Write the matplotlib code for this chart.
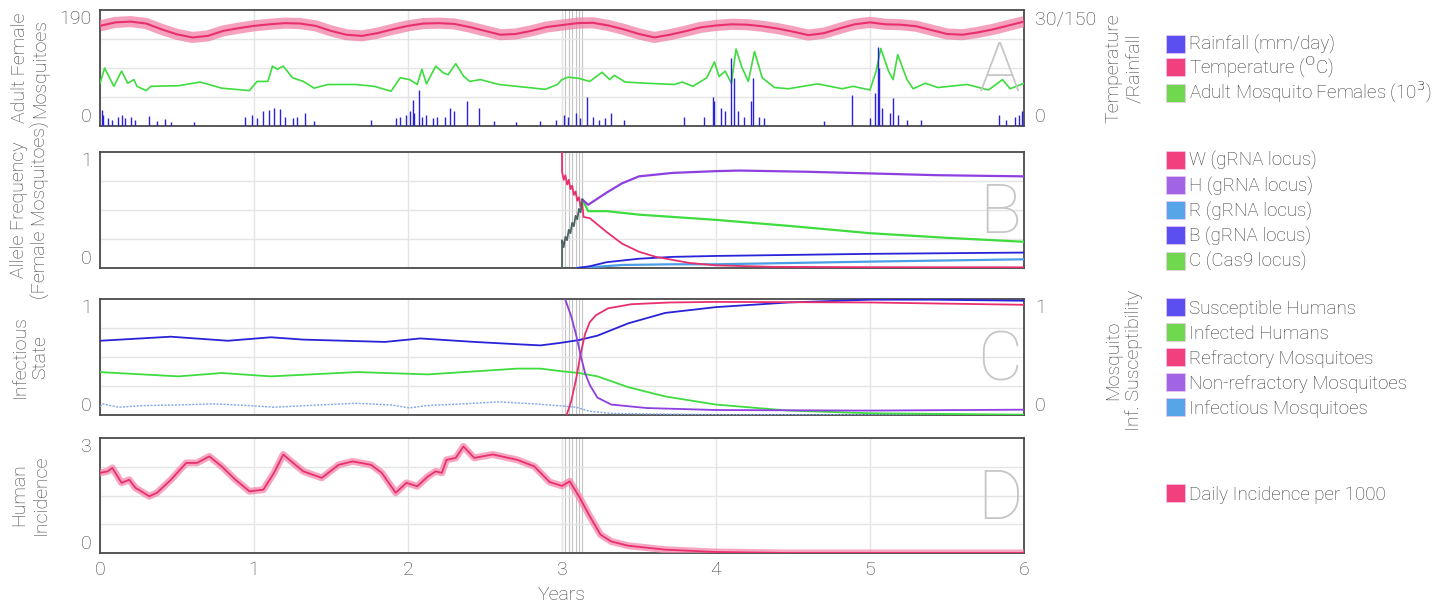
import numpy as np
import matplotlib.pyplot as plt
from matplotlib.patches import Patch

plt.rcParams['font.family'] = ['Roboto', 'DejaVu Sans']
plt.rcParams['font.weight'] = 'light'
plt.rcParams['axes.labelweight'] = 'light'

# release dates of the gene drive (years)
release_years = [3.0, 3.022, 3.044, 3.066, 3.088, 3.110, 3.132]

# --- panel A: climate and adult females ---
temp_years = np.linspace(0, 6, 61)
temp_c = [25.9, 26.8, 27.0, 26.5, 25.0, 23.7, 22.9, 23.3, 24.6, 25.3,
          25.9, 26.3, 26.6, 26.5, 25.9, 24.6, 23.6, 23.3, 24.0, 25.0,
          25.9, 26.5, 26.6, 26.4, 25.6, 24.6, 23.6, 23.8, 24.6, 25.6,
          26.1, 26.6, 26.7, 26.0, 25.0, 23.8, 22.9, 23.6, 24.5, 25.5,
          26.0, 26.3, 26.2, 25.8, 25.2, 24.4, 23.5, 24.0, 25.2, 26.3,
          26.8, 26.3, 26.2, 25.8, 24.8, 23.8, 23.6, 24.2, 25.0, 26.0, 27.0]

mosq_years = [0.0, 0.03, 0.09, 0.14, 0.18, 0.22, 0.24, 0.30, 0.33, 0.51, 0.65, 0.79, 0.97,
              1.02, 1.09, 1.12, 1.15, 1.19, 1.25, 1.32, 1.39, 1.48, 1.66, 1.78, 1.89, 1.95,
              2.01, 2.06, 2.09, 2.12, 2.18, 2.23, 2.26, 2.31, 2.36, 2.40, 2.47, 2.59, 2.82,
              2.89, 2.97, 3.00, 3.04, 3.11, 3.18, 3.26, 3.31, 3.34, 3.41, 3.55, 3.73, 3.78,
              3.85, 3.94, 3.99, 4.02, 4.06, 4.10, 4.13, 4.17, 4.21, 4.25, 4.30, 4.38, 4.47,
              4.66, 4.82, 4.89, 5.00, 5.04, 5.07, 5.12, 5.15, 5.18, 5.24, 5.28, 5.36, 5.44,
              5.63, 5.77, 5.86, 5.91, 6.00]
mosq_k = [70, 95, 65, 90, 70, 76, 65, 58, 65, 66, 72, 62, 58,
          73, 73, 98, 93, 98, 79, 73, 62, 68, 68, 65, 57, 79,
          76, 68, 93, 69, 98, 87, 84, 102, 82, 73, 76, 68, 62,
          60, 68, 76, 80, 78, 73, 88, 76, 83, 72, 70, 68, 72,
          65, 79, 105, 81, 90, 70, 126, 95, 73, 122, 79, 63, 61,
          69, 61, 65, 59, 90, 127, 90, 76, 117, 76, 61, 70, 63,
          68, 59, 76, 61, 70]

rain_years = [0.01, 0.02, 0.05, 0.08, 0.12, 0.14, 0.16, 0.20, 0.23, 0.32, 0.37, 0.42, 0.46,
              0.61, 0.94, 0.99, 1.02, 1.06, 1.10, 1.13, 1.17, 1.20, 1.25, 1.28, 1.33, 1.39,
              1.76, 1.92, 1.95, 1.99, 2.01, 2.03, 2.04, 2.07, 2.09, 2.12, 2.16, 2.19, 2.24,
              2.27, 2.30, 2.38, 2.46, 2.56, 2.70, 2.86, 2.96, 3.01, 3.04, 3.09, 3.12, 3.16,
              3.20, 3.24, 3.28, 3.32, 3.40, 3.79, 3.92, 3.98, 3.99, 4.03, 4.06, 4.10, 4.12,
              4.14, 4.18, 4.23, 4.24, 4.28, 4.31, 4.70, 4.88, 5.00, 5.03, 5.05, 5.06, 5.08,
              5.13, 5.15, 5.18, 5.24, 5.33, 5.84, 5.88, 5.94, 5.97, 5.99]
rain_mm = [21, 14, 10, 8, 12, 14, 10, 12, 8, 13, 6, 9, 5,
           5, 12, 14, 10, 19, 21, 23, 22, 12, 10, 12, 17, 6,
           8, 10, 12, 14, 19, 34, 17, 47, 12, 14, 10, 12, 12,
           23, 19, 32, 23, 6, 5, 6, 8, 14, 12, 17, 10, 38,
           12, 8, 10, 17, 8, 12, 12, 38, 32, 23, 19, 88, 62,
           19, 12, 32, 62, 12, 10, 6, 40, 10, 43, 102, 75, 23,
           17, 36, 14, 8, 8, 14, 8, 11, 14, 19]

# --- panel B: allele frequencies ---
mix_years = [3.0, 3.0005, 3.011, 3.022, 3.033, 3.044, 3.055, 3.066, 3.077, 3.088, 3.099, 3.110, 3.121, 3.132]
mix_freq = [0.0, 0.24, 0.18, 0.27, 0.24, 0.33, 0.30, 0.39, 0.36, 0.45, 0.42, 0.51, 0.48, 0.59]
w_years = [3.0, 3.0005, 3.011, 3.022, 3.033, 3.044, 3.055, 3.066, 3.077, 3.088, 3.099, 3.110, 3.121,
           3.132, 3.14, 3.18, 3.29, 3.39, 3.50, 3.61, 3.83, 4.0, 4.37, 5.0, 6.0]
w_freq = [1.0, 0.83, 0.76, 0.80, 0.72, 0.76, 0.68, 0.71, 0.63, 0.66, 0.58, 0.61, 0.53,
          0.55, 0.44, 0.43, 0.31, 0.21, 0.14, 0.096, 0.043, 0.023, 0.01, 0.007, 0.006]
h_years = [3.132, 3.17, 3.29, 3.39, 3.50, 3.72, 4.0, 4.15, 4.58, 5.01, 5.44, 6.0]
h_freq = [0.59, 0.545, 0.65, 0.73, 0.79, 0.82, 0.835, 0.84, 0.83, 0.815, 0.80, 0.79]
c_years = [3.132, 3.17, 3.29, 3.5, 4.0, 4.5, 5.0, 5.5, 6.0]
c_freq = [0.59, 0.49, 0.49, 0.46, 0.415, 0.36, 0.30, 0.26, 0.226]
b_years = [3.10, 3.18, 3.29, 3.50, 3.72, 4.0, 5.0, 6.0]
b_freq = [0.0, 0.015, 0.05, 0.08, 0.096, 0.104, 0.122, 0.133]
r_years = [3.10, 3.18, 3.39, 3.72, 4.0, 5.0, 6.0]
r_freq = [0.0, 0.006, 0.026, 0.032, 0.032, 0.055, 0.075]

# --- panel C: infection states ---
sus_years = [0, 0.46, 0.83, 1.11, 1.32, 1.85, 2.08, 2.43, 2.71, 2.86, 2.98, 3.11, 3.23, 3.43,
             3.67, 4.0, 4.47, 5.0, 5.4, 6.0]
sus_h = [0.64, 0.675, 0.64, 0.67, 0.65, 0.63, 0.66, 0.63, 0.61, 0.60, 0.62, 0.646, 0.684, 0.79,
         0.88, 0.93, 0.97, 0.994, 0.994, 0.985]
inf_years = [0, 0.51, 0.79, 1.11, 1.67, 2.13, 2.71, 2.86, 2.98, 3.11, 3.23, 3.43, 3.67, 4.0,
             4.47, 5.0, 6.0]
inf_h = [0.37, 0.333, 0.362, 0.333, 0.37, 0.35, 0.40, 0.40, 0.38, 0.362, 0.333, 0.24, 0.16, 0.09,
         0.038, 0.015, 0.003]
refr_years = [3.03, 3.06, 3.09, 3.12, 3.15, 3.18, 3.22, 3.30, 3.45, 3.7, 4.0, 5.0, 6.0]
refr_m = [0.0, 0.12, 0.30, 0.52, 0.70, 0.80, 0.86, 0.92, 0.955, 0.97, 0.975, 0.97, 0.95]
nonref_years = [3.02, 3.06, 3.09, 3.12, 3.15, 3.18, 3.23, 3.32, 3.55, 4.0, 5.0, 6.0]
nonref_m = [1.0, 0.85, 0.70, 0.52, 0.36, 0.26, 0.15, 0.09, 0.06, 0.043, 0.038, 0.046]
infm_years = [0, 0.02, 0.12, 0.28, 0.51, 0.74, 0.97, 1.13, 1.43, 1.66, 1.89, 2.01, 2.12, 2.36,
              2.59, 2.82, 2.97, 3.09, 3.18, 3.32, 3.55, 4.0, 6.0]
infm = [0.072, 0.096, 0.067, 0.081, 0.087, 0.096, 0.081, 0.067, 0.087, 0.101, 0.087, 0.061,
        0.081, 0.096, 0.113, 0.096, 0.081, 0.067, 0.032, 0.014, 0.009, 0.003, 0.003]

# --- panel D: incidence ---
inc_years = [0.0, 0.05, 0.08, 0.14, 0.19, 0.23, 0.32, 0.37, 0.46, 0.56, 0.63, 0.71, 0.79, 0.88,
             0.97, 1.06, 1.13, 1.19, 1.23, 1.32, 1.44, 1.55, 1.64, 1.76, 1.83, 1.92, 1.99, 2.06,
             2.13, 2.18, 2.22, 2.25, 2.31, 2.36, 2.43, 2.55, 2.71, 2.82, 2.92, 3.0, 3.05, 3.11,
             3.18, 3.25, 3.32, 3.43, 3.67, 4.0, 4.47, 6.0]
inc = [2.09, 2.13, 2.22, 1.83, 1.91, 1.70, 1.48, 1.57, 1.91, 2.35, 2.35, 2.52, 2.26, 1.91,
       1.61, 1.65, 2.09, 2.57, 2.43, 2.13, 1.96, 2.30, 2.39, 2.30, 2.09, 1.57, 1.83, 1.74,
       2.0, 2.13, 2.09, 2.43, 2.48, 2.78, 2.48, 2.57, 2.43, 2.26, 1.85, 1.75, 1.87, 1.48,
       0.96, 0.48, 0.30, 0.19, 0.087, 0.026, 0.0, 0.0]

# colours
pink = '#e8306e'
green = '#3fdc3f'
blue = '#2a22d8'
purple = '#8e3fe0'
lblue = '#4a9ee6'
frame_c = '#4a4a4a'
text_c = '#3f3f3f'
grid_c = '#e4e4e4'
TICK = 14

fig = plt.figure(figsize=(14.44, 6.05), dpi=100)
W, H = 1444, 605


def make_ax(top, bottom):
    ax = fig.add_axes([100 / W, 1 - bottom / H, 924 / W, (bottom - top) / H])
    ax.set_xlim(0, 6)
    ax.set_xticks(range(7))
    ax.grid(True, axis='x', color=grid_c, lw=1)
    for s in ax.spines.values():
        s.set_color(frame_c)
        s.set_linewidth(1.3)
    ax.tick_params(length=0, labelsize=TICK, colors=text_c, pad=6)
    ax.set_xticklabels([])
    for r in release_years:
        ax.axvline(r, color='#c4c4c4', lw=0.8, zorder=1)
    return ax


def quarter_grid(ax, top):
    ax.set_ylim(0, top)
    ax.set_yticks([0, top])
    ax.set_yticks([top * 0.25, top * 0.5, top * 0.75], minor=True)
    ax.tick_params(which='minor', length=0)
    ax.grid(True, axis='y', which='minor', color=grid_c, lw=1)


def inset_labels(ax, labels):
    # end labels sit inside the frame height, like the original
    ax.set_yticklabels(labels)
    tl = ax.get_yticklabels()
    tl[0].set_verticalalignment('bottom')
    tl[-1].set_verticalalignment('top')


def letter(ax, s):
    ax.text(0.974, 0.46, s, transform=ax.transAxes, ha='center', va='center',
            fontsize=50, color='#c6c6c6', fontweight='ultralight', zorder=5)


def right_axis(ax, top, labels):
    ax2 = ax.twinx()
    ax2.set_ylim(0, top)
    ax2.set_yticks([0, top])
    inset_labels(ax2, labels)
    ax2.tick_params(length=0, labelsize=TICK, colors=text_c, pad=8)
    for s in ax2.spines.values():
        s.set_visible(False)
    return ax2


# panel A
axA = make_ax(10, 126)
quarter_grid(axA, 190)
inset_labels(axA, ['0', '190'])
axA.plot(mosq_years, mosq_k, color=green, lw=1.2, zorder=3)
axA2 = right_axis(axA, 30, ['0', '30/150'])
axA2.vlines(rain_years, 0, np.array(rain_mm) / 5.0, color=blue, lw=1.0, zorder=2)
axA2.plot(temp_years, temp_c, color='#f27aa3', lw=8, alpha=0.7, solid_capstyle='butt', zorder=3)
axA2.plot(temp_years, temp_c, color=pink, lw=1.5, zorder=4)
letter(axA2, 'A')

# panel B
axB = make_ax(152, 268)
quarter_grid(axB, 1)
inset_labels(axB, ['0', '1'])
axB.plot(r_years, r_freq, color=lblue, lw=1.6, zorder=3)
axB.plot(b_years, b_freq, color=blue, lw=1.3, zorder=3)
axB.plot(c_years, c_freq, color=green, lw=1.6, zorder=3)
axB.plot(h_years, h_freq, color=purple, lw=1.6, zorder=3)
axB.plot(w_years, w_freq, color=pink, lw=1.3, zorder=4)
axB.plot(mix_years, mix_freq, color='#4e6464', lw=1.3, zorder=4)
letter(axB, 'B')

# panel C
axC = make_ax(299, 415)
quarter_grid(axC, 1)
inset_labels(axC, ['0', '1'])
axC.plot(infm_years, infm, color='#7fa6e8', lw=1.0, ls=(0, (1.5, 1)), zorder=3)
axC.plot(inf_years, inf_h, color=green, lw=1.3, zorder=3)
axC.plot(sus_years, sus_h, color=blue, lw=1.3, zorder=3)
axC.plot(refr_years, refr_m, color=pink, lw=1.3, zorder=4)
axC.plot(nonref_years, nonref_m, color=purple, lw=1.3, zorder=4)
axC2 = right_axis(axC, 1, ['0', '1'])
letter(axC, 'C')

# panel D
axD = make_ax(438, 553)
quarter_grid(axD, 3)
inset_labels(axD, ['0', '3'])
axD.set_xticklabels([str(i) for i in range(7)])
axD.plot(inc_years, inc, color='#f57fa8', lw=5, alpha=0.7, zorder=3)
axD.plot(inc_years, inc, color=pink, lw=1.3, zorder=4)
axD.set_xlabel('Years', fontsize=TICK, color=text_c, labelpad=5)
letter(axD, 'D')

# side labels
lab = dict(rotation=90, ha='center', va='center', multialignment='center',
           fontsize=14, color=text_c)
fig.text(30 / W, 1 - 68 / H, 'Adult Female\nMosquitoes', **lab)
fig.text(30 / W, 1 - 210 / H, 'Allele Frequency\n(Female Mosquitoes)', **lab)
fig.text(30 / W, 1 - 357 / H, 'Infectious\nState', **lab)
fig.text(30 / W, 1 - 495 / H, 'Human\nIncidence', **lab)
fig.text(1124 / W, 1 - 68 / H, 'Temperature\n/Rainfall', **lab)
fig.text(1124 / W, 1 - 360 / H, 'Mosquito\nInf. Susceptibility', **lab)


def side_legend(ax, entries, ycenter, spacing=0.3):
    handles = [Patch(facecolor=c, edgecolor='#f0c8f0', lw=0.5, label=t) for t, c in entries]
    leg = ax.legend(handles=handles, loc='center left', bbox_to_anchor=(1166 / W, 1 - ycenter / H),
                    bbox_transform=fig.transFigure, frameon=False, fontsize=13.5,
                    handlelength=1.0, handleheight=1.1, handletextpad=0.25,
                    labelspacing=spacing, borderpad=0, borderaxespad=0)
    for t in leg.get_texts():
        t.set_color('#3a3a3a')


side_legend(axA2, [('Rainfall (mm/day)', '#5b50ef'), ('Temperature ($^{\\mathrm{O}}$C)', '#f2407e'),
                   ('Adult Mosquito Females (10$^{3}$)', '#6fd84f')], 70, spacing=0.02)
side_legend(axB, [('W (gRNA locus)', '#f2407e'), ('H (gRNA locus)', '#a064e4'),
                  ('R (gRNA locus)', '#55a5e8'), ('B (gRNA locus)', '#5b50ef'),
                  ('C (Cas9 locus)', '#6fd84f')], 211)
side_legend(axC2, [('Susceptible Humans', '#5b50ef'), ('Infected Humans', '#6fd84f'),
                   ('Refractory Mosquitoes', '#f2407e'), ('Non-refractory Mosquitoes', '#a064e4'),
                   ('Infectious Mosquitoes', '#55a5e8')], 358)
side_legend(axD, [('Daily Incidence per 1000', '#f2407e')], 494)

fig.savefig('out.png', dpi=100)
